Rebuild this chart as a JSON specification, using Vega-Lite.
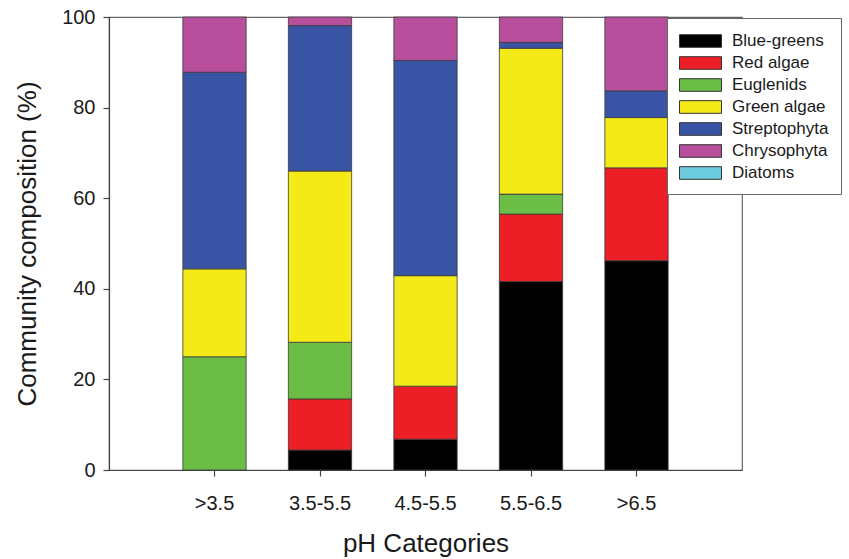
{
  "$schema": "https://vega.github.io/schema/vega-lite/v6.json",
  "width": 633,
  "height": 453,
  "autosize": "none",
  "padding": {"left": 109, "top": 17, "right": 107, "bottom": 89},
  "background": "white",
  "config": {
    "font": "Liberation Sans",
    "view": {"stroke": "#666666", "strokeWidth": 1.2},
    "axis": {"grid": false, "domainColor": "#444444", "tickColor": "#444444", "labelColor": "#1a1a1a", "titleColor": "#1a1a1a", "titleFontWeight": "normal", "domainWidth": 1.2, "tickWidth": 1.2}
  },
  "data": {
    "values": [
      {"ph": ">3.5", "group": "Euglenids", "ord": 3, "value": 25.0},
      {"ph": ">3.5", "group": "Green algae", "ord": 4, "value": 19.4},
      {"ph": ">3.5", "group": "Streptophyta", "ord": 5, "value": 43.4},
      {"ph": ">3.5", "group": "Chrysophyta", "ord": 6, "value": 12.2},
      {"ph": "3.5-5.5", "group": "Blue-greens", "ord": 1, "value": 4.4},
      {"ph": "3.5-5.5", "group": "Red algae", "ord": 2, "value": 11.3},
      {"ph": "3.5-5.5", "group": "Euglenids", "ord": 3, "value": 12.5},
      {"ph": "3.5-5.5", "group": "Green algae", "ord": 4, "value": 37.8},
      {"ph": "3.5-5.5", "group": "Streptophyta", "ord": 5, "value": 32.1},
      {"ph": "3.5-5.5", "group": "Chrysophyta", "ord": 6, "value": 1.9},
      {"ph": "4.5-5.5", "group": "Blue-greens", "ord": 1, "value": 6.8},
      {"ph": "4.5-5.5", "group": "Red algae", "ord": 2, "value": 11.7},
      {"ph": "4.5-5.5", "group": "Green algae", "ord": 4, "value": 24.4},
      {"ph": "4.5-5.5", "group": "Streptophyta", "ord": 5, "value": 47.5},
      {"ph": "4.5-5.5", "group": "Chrysophyta", "ord": 6, "value": 9.6},
      {"ph": "5.5-6.5", "group": "Blue-greens", "ord": 1, "value": 41.6},
      {"ph": "5.5-6.5", "group": "Red algae", "ord": 2, "value": 14.9},
      {"ph": "5.5-6.5", "group": "Euglenids", "ord": 3, "value": 4.4},
      {"ph": "5.5-6.5", "group": "Green algae", "ord": 4, "value": 32.2},
      {"ph": "5.5-6.5", "group": "Streptophyta", "ord": 5, "value": 1.3},
      {"ph": "5.5-6.5", "group": "Chrysophyta", "ord": 6, "value": 5.6},
      {"ph": ">6.5", "group": "Blue-greens", "ord": 1, "value": 46.2},
      {"ph": ">6.5", "group": "Red algae", "ord": 2, "value": 20.5},
      {"ph": ">6.5", "group": "Green algae", "ord": 4, "value": 11.1},
      {"ph": ">6.5", "group": "Streptophyta", "ord": 5, "value": 5.9},
      {"ph": ">6.5", "group": "Chrysophyta", "ord": 6, "value": 16.3}
    ]
  },
  "mark": {"type": "bar", "stroke": "#3a3a3a", "strokeWidth": 0.8},
  "encoding": {
    "x": {
      "field": "ph",
      "type": "ordinal",
      "sort": [">3.5", "3.5-5.5", "4.5-5.5", "5.5-6.5", ">6.5"],
      "scale": {"paddingInner": 0.4, "paddingOuter": 0.7},
      "axis": {"title": "pH Categories", "labelAngle": 0, "labelFontSize": 20, "titleFontSize": 26, "tickSize": 6, "labelPadding": 17, "titlePadding": 17}
    },
    "y": {
      "field": "value",
      "type": "quantitative",
      "stack": "zero",
      "scale": {"domain": [0, 100], "nice": false},
      "axis": {"title": "Community composition (%)", "values": [0, 20, 40, 60, 80, 100], "labelFontSize": 20, "titleFontSize": 26, "tickSize": 6, "labelPadding": 8, "titlePadding": 21}
    },
    "order": {"field": "ord", "type": "quantitative"},
    "color": {
      "field": "group",
      "type": "nominal",
      "scale": {
        "domain": ["Blue-greens", "Red algae", "Euglenids", "Green algae", "Streptophyta", "Chrysophyta", "Diatoms"],
        "range": ["#000000", "#ec1f26", "#6cbd45", "#f4ea17", "#3a54a5", "#b84f9d", "#6ccbdd"]
      },
      "legend": {
        "title": null,
        "orient": "none",
        "legendX": 558,
        "legendY": 1,
        "fillColor": "white",
        "strokeColor": "#666666",
        "padding": 12,
        "symbolType": "M-1,-0.6H3V0.6H-1Z",
        "symbolSize": 441,
        "symbolStrokeColor": "#333333",
        "symbolStrokeWidth": 1,
        "symbolOpacity": 1,
        "labelFontSize": 17,
        "labelColor": "#1a1a1a",
        "labelOffset": 31,
        "rowPadding": 2
      }
    }
  }
}
